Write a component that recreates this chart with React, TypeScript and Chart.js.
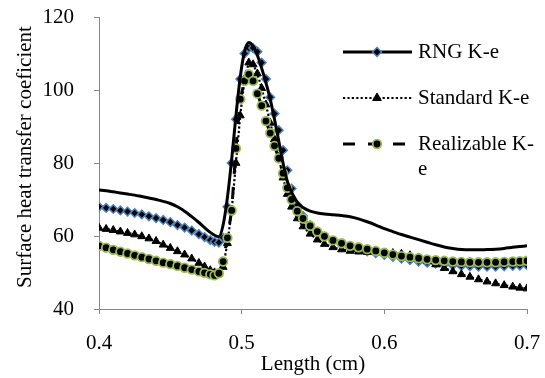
import React, { useEffect, useRef } from 'react';
import { Chart, registerables } from 'chart.js';

Chart.register(...registerables);

// ---------- data ----------
const xValues = [
  0.400, 0.405, 0.410, 0.415, 0.420, 0.425, 0.430, 0.435, 0.440, 0.445,
  0.450, 0.455, 0.460, 0.465, 0.470, 0.474, 0.478, 0.481, 0.484, 0.487,
  0.490, 0.493, 0.496, 0.499, 0.502, 0.505, 0.508, 0.511, 0.514, 0.517,
  0.520, 0.523, 0.526, 0.529, 0.532, 0.535, 0.539, 0.543, 0.548, 0.553,
  0.558, 0.564, 0.570, 0.576, 0.582, 0.588, 0.594, 0.600, 0.606, 0.612,
  0.618, 0.624, 0.630, 0.636, 0.642, 0.648, 0.654, 0.660, 0.666, 0.672,
  0.678, 0.684, 0.690, 0.695, 0.700,
];

// solid black RNG K-e curve
const rngLine = [
  72.6, 72.4, 72.1, 71.8, 71.5, 71.2, 70.8, 70.4, 70.0, 69.5,
  68.9, 68.0, 66.8, 65.3, 63.7, 62.3, 61.0, 60.2, 59.8, 63.0,
  70.5, 81.0, 93.0, 103.5, 110.5, 113.0, 112.0, 109.5, 106.0, 102.0,
  97.5, 92.0, 86.0, 80.0, 75.0, 72.0, 69.2, 67.8, 66.8, 66.3,
  66.0, 65.8, 65.6, 65.3, 64.7, 63.9, 63.0, 62.0, 61.2, 60.4,
  59.7, 59.0, 58.3, 57.6, 57.0, 56.6, 56.3, 56.2, 56.2, 56.3,
  56.4, 56.6, 56.9, 57.1, 57.3,
];

// RNG K-e diamond markers
const rngMarkers = [
  68.0, 67.7, 67.4, 67.0, 66.7, 66.3, 65.9, 65.4, 64.9, 64.4,
  63.8, 63.0, 62.3, 61.5, 60.5, 59.7, 58.9, 58.4, 58.2, 59.5,
  68.0, 80.0, 92.0, 103.0, 110.0, 111.5, 111.5, 110.5, 107.5, 103.0,
  98.0, 93.5, 89.0, 83.5, 78.0, 73.0, 68.5, 65.5, 63.0, 61.2,
  59.8, 58.6, 57.6, 56.8, 56.3, 55.8, 55.3, 54.8, 54.3, 53.8,
  53.4, 53.0, 52.7, 52.4, 52.2, 52.0, 51.8, 51.7, 51.6, 51.6,
  51.6, 51.7, 51.8, 51.9, 52.0,
];

const standardKe = [
  62.2, 61.9, 61.6, 61.2, 60.8, 60.4, 59.9, 59.3, 58.6, 57.6,
  56.7, 55.8, 54.9, 53.8, 52.6, 51.6, 50.6, 50.0, 49.6, 51.5,
  58.0, 67.0, 80.0, 93.0, 103.0, 107.5, 107.0, 104.5, 100.5, 96.0,
  91.0, 86.5, 81.5, 76.0, 71.5, 68.0, 64.8, 62.6, 60.6, 59.0,
  57.8, 56.9, 56.3, 55.9, 55.7, 55.6, 55.5, 55.4, 55.3, 55.1,
  54.7, 54.1, 53.2, 52.2, 51.2, 50.3, 49.5, 48.8, 48.1, 47.5,
  47.0, 46.5, 46.1, 45.8, 45.6,
];

const realizableKe = [
  57.3, 56.8, 56.2, 55.7, 55.2, 54.7, 54.2, 53.7, 53.2, 52.7,
  52.3, 51.8, 51.3, 50.8, 50.3, 49.9, 49.5, 49.2, 49.8, 53.0,
  59.5, 67.0, 84.0, 97.5, 102.5, 104.3, 102.5, 99.0, 95.7, 91.5,
  88.2, 84.7, 81.3, 77.2, 73.2, 70.0, 66.8, 64.8, 62.8, 61.2,
  59.9, 58.8, 58.0, 57.3, 56.9, 56.4, 55.9, 55.4, 54.9, 54.5,
  54.2, 53.9, 53.6, 53.4, 53.2, 53.0, 52.9, 52.8, 52.8, 52.8,
  52.8, 52.9, 53.0, 53.1, 53.2,
];

const seriesNames = ['RNG K-e', 'Standard K-e', 'Realizable K-e'];
const xTickValues = [0.4, 0.5, 0.6, 0.7];
const xTickLabels = ['0.4', '0.5', '0.6', '0.7'];
const yTickValues = [40, 60, 80, 100, 120];
const yTickLabels = ['40', '60', '80', '100', '120'];
const xTitle = 'Length (cm)';
const yTitle = 'Surface heat transfer coeficient';

// ---------- styles ----------
const FONT_FAMILY = "'Liberation Serif', 'Times New Roman', serif";
const FONT_SIZE = 21;
const AXIS_COLOR = '#868686';
const BLUE = '#4F81BD';
const GREEN = '#9BBB59';

function drawDiamond(ctx: CanvasRenderingContext2D, x: number, y: number, r: number) {
  ctx.beginPath();
  ctx.moveTo(x, y - r);
  ctx.lineTo(x + r, y);
  ctx.lineTo(x, y + r);
  ctx.lineTo(x - r, y);
  ctx.closePath();
  ctx.fillStyle = '#000';
  ctx.fill();
  ctx.strokeStyle = BLUE;
  ctx.lineWidth = 1.5;
  ctx.stroke();
}

function drawTriangle(ctx: CanvasRenderingContext2D, x: number, y: number, r: number) {
  ctx.beginPath();
  ctx.moveTo(x, y - r);
  ctx.lineTo(x + 0.866 * r, y + 0.5 * r);
  ctx.lineTo(x - 0.866 * r, y + 0.5 * r);
  ctx.closePath();
  ctx.fillStyle = '#000';
  ctx.fill();
  ctx.strokeStyle = '#000';
  ctx.lineWidth = 1;
  ctx.stroke();
}

function drawCircle(ctx: CanvasRenderingContext2D, x: number, y: number, r: number) {
  ctx.beginPath();
  ctx.arc(x, y, r, 0, Math.PI * 2);
  ctx.fillStyle = '#000';
  ctx.fill();
  ctx.strokeStyle = GREEN;
  ctx.lineWidth = 1.8;
  ctx.stroke();
}

function wrapName(ctx: CanvasRenderingContext2D, text: string, maxWidth: number): string[] {
  if (ctx.measureText(text).width <= maxWidth) return [text];
  const idx = text.lastIndexOf('-');
  if (idx > 0) return [text.slice(0, idx + 1), text.slice(idx + 1)];
  return [text];
}

const legendPlugin = {
  id: 'customLegend',
  afterDraw(chart: any) {
    const ctx: CanvasRenderingContext2D = chart.ctx;
    const x0 = 343;
    const x1 = 412;
    const mx = 377;
    const tx = 418;
    const rows = [52, 98, 144];
    const lineGap = 25.5;
    ctx.save();
    ctx.font = `${FONT_SIZE}px ${FONT_FAMILY}`;
    ctx.textAlign = 'left';
    ctx.textBaseline = 'middle';
    seriesNames.forEach((name, i) => {
      const y = rows[i];
      ctx.save();
      ctx.strokeStyle = '#000';
      ctx.lineCap = 'butt';
      if (i === 0) {
        ctx.lineWidth = 3;
        ctx.setLineDash([]);
      } else if (i === 1) {
        ctx.lineWidth = 2.2;
        ctx.setLineDash([2.2, 2.2]);
      } else {
        ctx.lineWidth = 3;
        ctx.setLineDash([12, 13]);
      }
      ctx.beginPath();
      ctx.moveTo(x0, y);
      ctx.lineTo(x1, y);
      ctx.stroke();
      ctx.setLineDash([]);
      if (i === 0) drawDiamond(ctx, mx, y, 4.5);
      else if (i === 1) drawTriangle(ctx, mx, y, 5);
      else drawCircle(ctx, mx, y, 4.3);
      ctx.restore();
      ctx.fillStyle = '#000';
      const lines = wrapName(ctx, name, 114);
      lines.forEach((ln, k) => ctx.fillText(ln, tx, y + k * lineGap));
    });
    ctx.restore();
  },
};

// vertical axis title, centred on the text block of the reference
const yTitlePlugin = {
  id: 'yTitle',
  afterDraw(chart: any) {
    const ctx: CanvasRenderingContext2D = chart.ctx;
    const area = chart.chartArea;
    ctx.save();
    ctx.font = `${FONT_SIZE}px ${FONT_FAMILY}`;
    ctx.fillStyle = '#000';
    ctx.textAlign = 'center';
    ctx.textBaseline = 'middle';
    ctx.translate(25, (area.top + area.bottom) / 2 - 6);
    ctx.rotate(-Math.PI / 2);
    ctx.fillText(yTitle, 0, 0);
    ctx.restore();
  },
};

const noScalePadding = (s: any) => {
  s.paddingTop = 0;
  s.paddingBottom = 0;
  s.paddingLeft = 0;
  s.paddingRight = 0;
};

export default function App() {
  const ref = useRef<HTMLCanvasElement>(null);

  useEffect(() => {
    const canvas = ref.current;
    if (!canvas) return;
    const font = { family: FONT_FAMILY, size: FONT_SIZE };
    const pts = (ys: number[]) => xValues.map((x, i) => ({ x, y: ys[i] }));

    const chart = new Chart(canvas, {
      type: 'scatter',
      data: {
        datasets: [
          {
            label: seriesNames[0],
            data: pts(rngLine),
            showLine: true,
            borderColor: '#000',
            borderWidth: 3,
            pointRadius: 0,
            cubicInterpolationMode: 'monotone',
          },
          {
            label: seriesNames[2],
            data: pts(realizableKe),
            showLine: true,
            borderColor: '#000',
            borderWidth: 3,
            borderDash: [12, 13],
            pointStyle: 'circle',
            pointRadius: 4.3,
            pointBackgroundColor: '#000',
            pointBorderColor: GREEN,
            pointBorderWidth: 1.8,
          },
          {
            label: seriesNames[1],
            data: pts(standardKe),
            showLine: true,
            borderColor: '#000',
            borderWidth: 2.2,
            borderDash: [2.2, 2.2],
            pointStyle: 'triangle',
            pointRadius: 4.6,
            pointBackgroundColor: '#000',
            pointBorderColor: '#000',
            pointBorderWidth: 1,
          },
          {
            label: seriesNames[0] + ' markers',
            data: pts(rngMarkers),
            showLine: false,
            pointStyle: 'rectRot',
            pointRadius: 4.3,
            pointBackgroundColor: '#000',
            pointBorderColor: BLUE,
            pointBorderWidth: 1.5,
          },
        ],
      },
      options: {
        responsive: false,
        animation: false,
        devicePixelRatio: 1,
        layout: { padding: { top: 17, right: 18, left: 0, bottom: 0 } },
        plugins: {
          legend: { display: false },
          tooltip: { enabled: false },
        },
        scales: {
          x: {
            type: 'linear',
            min: 0.4,
            max: 0.7,
            afterFit: (s: any) => { s.height = 69; noScalePadding(s); },
            afterBuildTicks: (s: any) => { s.ticks = xTickValues.map((v) => ({ value: v })); },
            ticks: {
              font,
              color: '#000',
              padding: 17,
              maxRotation: 0,
              callback: (_v: any, i: number) => xTickLabels[i],
            },
            grid: { drawOnChartArea: false, drawTicks: true, tickLength: 5, color: AXIS_COLOR },
            border: { display: true, color: AXIS_COLOR, width: 1 },
            title: { display: true, text: xTitle, font, color: '#000', padding: { top: 0, bottom: 1 } },
          },
          y: {
            type: 'linear',
            min: 40,
            max: 120,
            afterFit: (s: any) => { s.width = 99; noScalePadding(s); },
            afterBuildTicks: (s: any) => { s.ticks = yTickValues.map((v) => ({ value: v })); },
            ticks: {
              font,
              color: '#000',
              padding: 20,
              callback: (_v: any, i: number) => yTickLabels[i],
            },
            grid: { drawOnChartArea: false, drawTicks: true, tickLength: 5, color: AXIS_COLOR },
            border: { display: true, color: AXIS_COLOR, width: 1 },
            title: { display: false, text: yTitle },
          },
        },
      },
      plugins: [legendPlugin, yTitlePlugin],
    } as any);

    return () => chart.destroy();
  }, []);

  return (
    <div style={{ position: 'fixed', left: 0, top: 0, width: 545, height: 378, background: '#fff' }}>
      <canvas ref={ref} width={545} height={378} style={{ display: 'block' }} />
    </div>
  );
}
